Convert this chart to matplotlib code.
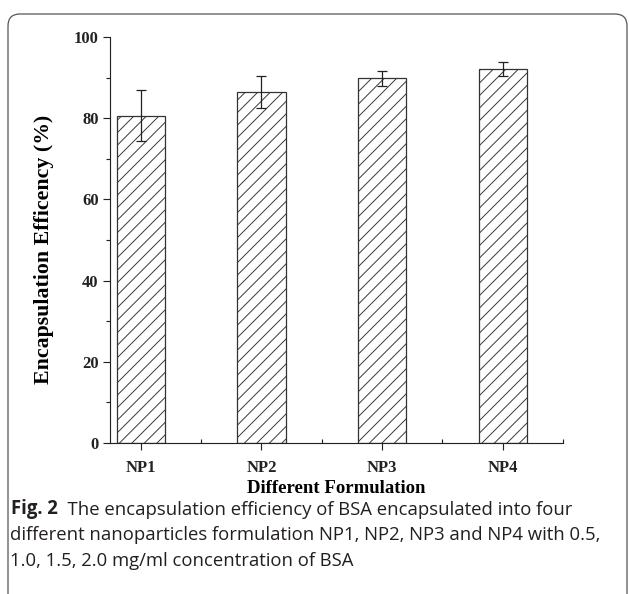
import matplotlib
matplotlib.use("Agg")
import matplotlib.pyplot as plt
import matplotlib.patches as mpatches
from matplotlib.transforms import IdentityTransform
from matplotlib.ticker import MultipleLocator

formulations = ["NP1", "NP2", "NP3", "NP4"]
efficiency = [80.6, 86.4, 89.8, 92.1]
errors = [6.3, 4.0, 1.8, 1.8]

W, H, DPI = 629, 594, 75
plt.rcParams["hatch.linewidth"] = 0.9

fig = plt.figure(figsize=(W / DPI, H / DPI), dpi=DPI)
ax = fig.add_axes([110 / W, (H - 443) / H, (563 - 110) / W, (443 - 37) / H])

x = list(range(1, len(formulations) + 1))
ax.bar(x, efficiency, width=0.4, color="white", edgecolor="#333333",
       linewidth=1.2, hatch="//")
ax.errorbar(x, efficiency, yerr=errors, fmt="none", ecolor="#222222",
            elinewidth=1.2, capsize=5, capthick=1.2)

ax.set_xlim(0.745, 4.5)
ax.set_ylim(0, 100)
ax.set_xticks(x)
ax.set_xticklabels(formulations)
ax.set_xticks([1.5, 2.5, 3.5, 4.5], minor=True)
ax.yaxis.set_major_locator(MultipleLocator(20))
ax.yaxis.set_minor_locator(MultipleLocator(10))
for s in ["top", "right"]:
    ax.spines[s].set_visible(False)
for s in ["left", "bottom"]:
    ax.spines[s].set_linewidth(1.1)
    ax.spines[s].set_color("#222222")

serif = {"family": "Liberation Serif", "weight": "bold"}
ax.tick_params(axis="both", which="major", direction="out", length=7,
               width=1.1, colors="#222222", labelsize=16)
ax.tick_params(axis="x", which="major", pad=9)
ax.tick_params(axis="y", which="major", pad=4)
ax.tick_params(axis="both", which="minor", direction="out", length=4,
               width=1.1, colors="#222222")
ax.tick_params(axis="x", which="minor", direction="in")
for lab in ax.get_xticklabels() + ax.get_yticklabels():
    lab.set_fontfamily("Liberation Serif")
    lab.set_fontweight("bold")
ax.set_xlabel("Different Formulation", fontdict=serif, fontsize=18, labelpad=4)
ax.set_ylabel("Encapsulation Efficency (%)", fontdict=serif, fontsize=21)
ax.yaxis.set_label_coords(-0.123, 0.478)

# rounded frame around figure + caption
frame = mpatches.FancyBboxPatch((8, -30), W - 10, H - 14 + 30,
                                boxstyle="round,pad=0,rounding_size=12",
                                transform=IdentityTransform(),
                                facecolor="none", edgecolor="#555555",
                                linewidth=1.2)
fig.add_artist(frame)

cap_size = 17.8
t = fig.text(11 / W, 1 - 514 / H, "Fig. 2", fontsize=cap_size,
             family="Open Sans", weight="bold", color="#231f20")
ax.annotate("  The encapsulation efficiency of BSA encapsulated into four",
            xy=(1, 0), xycoords=t, fontsize=cap_size, family="Open Sans",
            color="#231f20", va="bottom", ha="left", annotation_clip=False)
fig.text(10 / W, 1 - 540 / H,
         "different nanoparticles formulation NP1, NP2, NP3 and NP4 with 0.5,",
         fontsize=cap_size, family="Open Sans", color="#231f20")
fig.text(10 / W, 1 - 566 / H, "1.0, 1.5, 2.0 mg/ml concentration of BSA",
         fontsize=cap_size, family="Open Sans", color="#231f20")

fig.savefig("out.png", dpi=DPI)
